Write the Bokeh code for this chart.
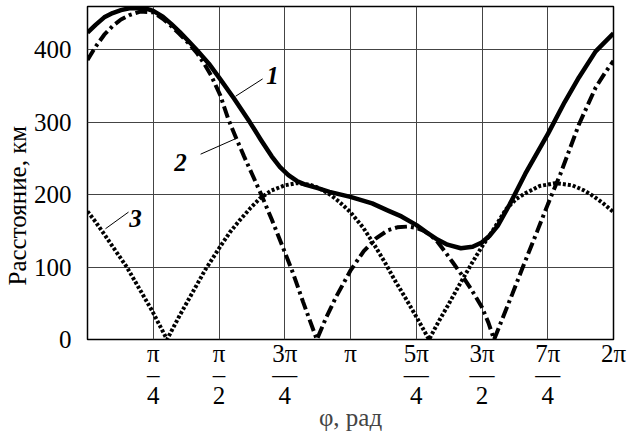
import numpy as np
from bokeh.plotting import figure
from bokeh.models import FixedTicker, Title, Range1d
from bokeh.embed import file_html
from bokeh.resources import INLINE
from bokeh.core.properties import value

PI = np.pi

# Curve 1 (solid)
phi1 = [0, 0.1, 0.2, 0.3, 0.4, 0.5, 0.6, 0.7, 0.785, 0.9, 1.0, 1.1, 1.2, 1.306, 1.45,
        1.583, 1.75, 1.94, 2.07, 2.2, 2.3, 2.4, 2.5, 2.6, 2.75, 2.89, 3.14, 3.4, 3.59,
        3.75, 3.93, 4.05, 4.18, 4.3, 4.46, 4.6, 4.71, 4.8, 4.9, 5.04, 5.23, 5.5, 5.7,
        5.87, 6.07, 6.283]
dist1 = [424, 435, 445, 451, 455, 457.5, 458, 457, 454, 446, 436, 425, 413, 400, 381,
         360, 333, 300, 276, 253, 238, 227, 219, 214, 209, 204, 197, 188, 178,
         170, 158, 148, 138, 131, 126, 128, 134, 143, 157, 186, 229, 284, 328,
         362, 398, 423]

# Curve 2 (dash-dot)
phi2 = [0, 0.1, 0.2, 0.3, 0.4, 0.5, 0.63, 0.785, 0.9, 1.0, 1.1, 1.2, 1.306, 1.4, 1.48,
        1.587, 1.68, 1.78, 1.87, 1.96, 2.08, 2.2, 2.356, 2.46, 2.575, 2.66, 2.74, 2.85,
        2.97, 3.14, 3.3, 3.45, 3.59, 3.7, 3.825, 3.93, 4.02, 4.10, 4.18, 4.26, 4.36,
        4.46, 4.58, 4.71, 4.79, 4.857, 4.95, 5.075, 5.19, 5.37, 5.5, 5.65, 5.87, 6.07,
        6.18, 6.283]
dist2 = [386, 405, 421, 433, 442, 448, 453, 452, 443, 433, 422, 410, 396, 380, 364,
         337, 305, 277, 253, 230, 199, 166, 121, 90, 52, 25, 0, 30,
         59, 95, 122, 140, 151, 155, 156, 154, 150, 144, 135, 123, 107,
         91, 70, 45, 23, 0, 27, 63, 97, 149, 187, 229, 297, 348,
         368, 385]

# Curve 3 (dotted)
phi3 = [0, 0.1, 0.214, 0.35, 0.47, 0.62, 0.77, 0.95, 1.1, 1.25, 1.405, 1.583, 1.7,
        1.82, 1.95, 2.06, 2.2, 2.357, 2.5, 2.65, 2.77, 2.9, 3.01, 3.14, 3.29, 3.43,
        3.55, 3.67, 3.8, 3.93, 4.08, 4.2, 4.3, 4.45, 4.6, 4.71, 4.85, 5.0, 5.12, 5.23,
        5.4, 5.59, 5.79, 5.93, 6.03, 6.15, 6.283]
dist3 = [177, 162, 143, 120, 100, 70, 40, 0, 33, 64, 96, 128, 148,
         165, 182, 195, 206, 213, 216, 214, 209, 200, 190, 176, 155, 130,
         107, 82, 57, 31, 0, 26, 46, 77, 107, 128, 152, 180, 194, 202,
         212, 216, 213, 206, 199, 189, 176]

x_ticks = [k * PI / 4 for k in range(1, 9)]
x_tick_labels = ["π\n–\n4", "π\n–\n2", "3π\n—\n4", "π", "5π\n—\n4", "3π\n—\n2", "7π\n—\n4", "2π"]
y_ticks = [0, 100, 200, 300, 400]

curve_names = ["1", "2", "3"]
name_x = [2.211, 1.111, 0.574]
name_y = [364, 245, 167]
lead_x0 = [1.769, 1.351, 0.215]
lead_y0 = [336, 256, 153]
lead_x1 = [2.092, 1.781, 0.49]
lead_y1 = [360, 278, 176]

FONT = "Liberation Serif"

p = figure(width=628, height=434, output_backend="svg", toolbar_location=None,
           x_range=Range1d(0, 2 * PI), y_range=Range1d(0, 460),
           min_border_left=87, min_border_right=15, min_border_top=6, min_border_bottom=95)

p.background_fill_color = "white"
p.border_fill_color = "white"
p.outline_line_color = "black"
p.outline_line_width = 1.5

p.xaxis.ticker = FixedTicker(ticks=x_ticks)
p.yaxis.ticker = FixedTicker(ticks=y_ticks)
p.xaxis.major_label_overrides = {t: s for t, s in zip(x_ticks, x_tick_labels)}

for ax in (p.xaxis[0], p.yaxis[0]):
    ax.axis_line_color = None
    ax.major_tick_line_color = None
    ax.minor_tick_line_color = None
    ax.major_label_text_font = FONT
    ax.major_label_text_font_size = "25px"
    ax.major_label_text_color = "black"

p.xaxis.major_label_standoff = -6
p.xaxis.major_label_text_line_height = 0.78
p.yaxis.major_label_standoff = 10

p.xaxis.axis_label = "φ, рад"
p.xaxis.axis_label_text_font = FONT
p.xaxis.axis_label_text_font_size = "25px"
p.xaxis.axis_label_text_font_style = "normal"
p.xaxis.axis_label_standoff = -8

p.add_layout(Title(text="Расстояние, км", align="left", offset=54, standoff=0,
                   text_font=FONT, text_font_size="25px", text_font_style="normal",
                   text_color="black"), "left")

p.xgrid.ticker = FixedTicker(ticks=x_ticks)
p.ygrid.ticker = FixedTicker(ticks=y_ticks)
p.grid.grid_line_color = "#444444"
p.grid.grid_line_width = 1

p.line(phi3, dist3, line_color="black", line_width=4, line_dash="3 2")
p.line(phi2, dist2, line_color="black", line_width=4, line_dash="12 4 3 4")
p.line(phi1, dist1, line_color="black", line_width=4.5, line_join="round")

p.segment(lead_x0, lead_y0, lead_x1, lead_y1, line_color="black", line_width=1)
p.text(name_x, name_y, text=curve_names, text_font=value(FONT), text_font_size="25px",
       text_font_style="bold italic", text_align="center", text_baseline="middle",
       text_color="black")

open("out.html", "w").write(file_html(p, INLINE))
